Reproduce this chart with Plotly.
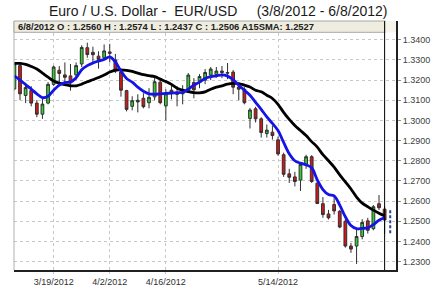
import plotly.graph_objects as go

dates = ["3/8/2012", "3/9/2012", "3/12/2012", "3/13/2012", "3/14/2012", "3/15/2012", "3/16/2012",
         "3/19/2012", "3/20/2012", "3/21/2012", "3/22/2012", "3/23/2012",
         "3/26/2012", "3/27/2012", "3/28/2012", "3/29/2012", "3/30/2012",
         "4/2/2012", "4/3/2012", "4/4/2012", "4/5/2012", "4/6/2012",
         "4/9/2012", "4/10/2012", "4/11/2012", "4/12/2012", "4/13/2012",
         "4/16/2012", "4/17/2012", "4/18/2012", "4/19/2012", "4/20/2012",
         "4/23/2012", "4/24/2012", "4/25/2012", "4/26/2012", "4/27/2012",
         "4/30/2012", "5/1/2012", "5/2/2012", "5/3/2012", "5/4/2012",
         "5/7/2012", "5/8/2012", "5/9/2012", "5/10/2012", "5/11/2012",
         "5/14/2012", "5/15/2012", "5/16/2012", "5/17/2012", "5/18/2012",
         "5/21/2012", "5/22/2012", "5/23/2012", "5/24/2012", "5/25/2012",
         "5/28/2012", "5/29/2012", "5/30/2012", "5/31/2012", "6/1/2012",
         "6/4/2012", "6/5/2012", "6/6/2012", "6/7/2012", "6/8/2012"]

opens = [1.3156, 1.3272, 1.3124, 1.3148, 1.3086, 1.3031, 1.3086,
         1.3179, 1.3249, 1.3226, 1.3221, 1.3226,
         1.3280, 1.3361, 1.3338, 1.3319, 1.3311,
         1.3340, 1.3300, 1.3240, 1.3148, 1.3070,
         1.3100, 1.3110, 1.3088, 1.3117, 1.3190,
         1.3072, 1.3150, 1.3135, 1.3132, 1.3150,
         1.3188, 1.3196, 1.3200, 1.3225, 1.3228,
         1.3245, 1.3238, 1.3240, 1.3166, 1.3155,
         1.3010, 1.3058, 1.3008, 1.2935, 1.2942,
         1.2904, 1.2830, 1.2735, 1.2720, 1.2704,
         1.2778, 1.2820, 1.2689, 1.2587, 1.2536,
         1.2583, 1.2549, 1.2500, 1.2377, 1.2377,
         1.2424, 1.2502, 1.2463, 1.2587, 1.2560]
highs = [1.3290, 1.3280, 1.3187, 1.3170, 1.3101, 1.3117, 1.3190,
         1.3272, 1.3270, 1.3288, 1.3280, 1.3288,
         1.3373, 1.3386, 1.3366, 1.3343, 1.3377,
         1.3380, 1.3330, 1.3250, 1.3152, 1.3120,
         1.3130, 1.3135, 1.3160, 1.3210, 1.3200,
         1.3155, 1.3175, 1.3170, 1.3175, 1.3235,
         1.3210, 1.3230, 1.3255, 1.3265, 1.3265,
         1.3270, 1.3285, 1.3250, 1.3187, 1.3165,
         1.3062, 1.3068, 1.3016, 1.2980, 1.2975,
         1.2920, 1.2840, 1.2760, 1.2745, 1.2790,
         1.2830, 1.2828, 1.2697, 1.2620, 1.2556,
         1.2626, 1.2556, 1.2510, 1.2393, 1.2463,
         1.2510, 1.2517, 1.2580, 1.2630, 1.2574]
lows = [1.3150, 1.3101, 1.3086, 1.3070, 1.3016, 1.3008, 1.3080,
        1.3171, 1.3182, 1.3171, 1.3148, 1.3202,
        1.3265, 1.3311, 1.3288, 1.3257, 1.3303,
        1.3288, 1.3235, 1.3118, 1.3045, 1.3050,
        1.3040, 1.3060, 1.3060, 1.3100, 1.3080,
        1.3000, 1.3105, 1.3070, 1.3080, 1.3140,
        1.3110, 1.3160, 1.3180, 1.3200, 1.3212,
        1.3210, 1.3205, 1.3130, 1.3100, 1.3080,
        1.2960, 1.2990, 1.2915, 1.2915, 1.2905,
        1.2825, 1.2720, 1.2690, 1.2673, 1.2650,
        1.2760, 1.2690, 1.2585, 1.2517, 1.2509,
        1.2533, 1.2465, 1.2369, 1.2343, 1.2288,
        1.2410, 1.2439, 1.2455, 1.2556, 1.2437]
closes = [1.3280, 1.3132, 1.3163, 1.3086, 1.3031, 1.3081, 1.3179,
          1.3265, 1.3233, 1.3214, 1.3187, 1.3272,
          1.3362, 1.3327, 1.3326, 1.3303, 1.3345,
          1.3333, 1.3245, 1.3150, 1.3055, 1.3098,
          1.3092, 1.3068, 1.3115, 1.3192, 1.3088,
          1.3132, 1.3140, 1.3130, 1.3138, 1.3225,
          1.3152, 1.3218, 1.3238, 1.3255, 1.3245,
          1.3238, 1.3235, 1.3165, 1.3155, 1.3088,
          1.3052, 1.3008, 1.2940, 1.2952, 1.2925,
          1.2834, 1.2733, 1.2718, 1.2697, 1.2782,
          1.2820, 1.2697, 1.2588, 1.2533, 1.2517,
          1.2551, 1.2471, 1.2377, 1.2362, 1.2424,
          1.2494, 1.2455, 1.2572, 1.2567, 1.2506]

# short moving average (blue)
fast_ma = [1.3221, 1.3200, 1.3178, 1.3156, 1.3132, 1.3113, 1.3120,
           1.3150, 1.3175, 1.3188, 1.3190, 1.3212,
           1.3252, 1.3272, 1.3285, 1.3295, 1.3303,
           1.3315, 1.3290, 1.3245, 1.3208, 1.3190,
           1.3165, 1.3145, 1.3132, 1.3130, 1.3132,
           1.3134, 1.3136, 1.3138, 1.3140, 1.3155,
           1.3175, 1.3190, 1.3208, 1.3217, 1.3221,
           1.3226, 1.3220, 1.3202, 1.3175, 1.3150,
           1.3125, 1.3090, 1.3055, 1.3018, 1.2985,
           1.2950, 1.2891, 1.2835, 1.2800, 1.2788,
           1.2780, 1.2765, 1.2705, 1.2657, 1.2632,
           1.2626, 1.2580, 1.2522, 1.2479, 1.2463,
           1.2465, 1.2467, 1.2483, 1.2505, 1.2517]
# 15-day SMA (black)
sma15 = [1.3283, 1.3283, 1.3278, 1.3268, 1.3255, 1.3235, 1.3215,
         1.3196, 1.3185, 1.3178, 1.3172, 1.3172,
         1.3180, 1.3192, 1.3202, 1.3213, 1.3225,
         1.3240, 1.3250, 1.3251, 1.3248, 1.3243,
         1.3235, 1.3227, 1.3222, 1.3217, 1.3205,
         1.3193, 1.3179, 1.3160, 1.3150, 1.3143,
         1.3138, 1.3137, 1.3142, 1.3155, 1.3165,
         1.3172, 1.3180, 1.3184, 1.3183, 1.3175,
         1.3166, 1.3150, 1.3142, 1.3125, 1.3109,
         1.3080, 1.3040, 1.3005, 1.2975, 1.2950,
         1.2925, 1.2895, 1.2868, 1.2830, 1.2800,
         1.2768, 1.2730, 1.2695, 1.2660, 1.2620,
         1.2590, 1.2572, 1.2555, 1.2540, 1.2527]

proj_dates = ["6/11/2012", "6/11/2012"]
proj_values = [1.2440, 1.2563]

tick_dates = ["3/19/2012", "4/2/2012", "4/16/2012", "5/14/2012"]
y_ticks = [1.23, 1.24, 1.25, 1.26, 1.27, 1.28, 1.29, 1.30, 1.31, 1.32, 1.33, 1.34]
y_tick_text = ["1.2300", "1.2400", "1.2500", "1.2600", "1.2700", "1.2800",
               "1.2900", "1.3000", "1.3100", "1.3200", "1.3300", "1.3400"]

title_text = "Euro / U.S. Dollar -\u00a0 EUR/USD\u00a0\u00a0\u00a0\u00a0 (3/8/2012 - 6/8/2012)"
header_text = "6/8/2012 O : 1.2560 H : 1.2574 L : 1.2437 C : 1.2506 A15SMA: 1.2527"

FONT = "Arial, 'Liberation Sans', sans-serif"

fig = go.Figure()
fig.add_trace(go.Candlestick(
    x=dates, open=opens, high=highs, low=lows, close=closes,
    increasing=dict(line=dict(color="#303030", width=1), fillcolor="#2fcf2f"),
    decreasing=dict(line=dict(color="#303030", width=1), fillcolor="#d01818"),
    whiskerwidth=0, showlegend=False, hoverinfo="skip"))
fig.add_trace(go.Scatter(x=dates, y=sma15, mode="lines",
                         line=dict(color="#000000", width=2.8, shape="spline"),
                         showlegend=False, hoverinfo="skip"))
fig.add_trace(go.Scatter(x=dates, y=fast_ma, mode="lines",
                         line=dict(color="#1414e6", width=2.8, shape="spline"),
                         showlegend=False, hoverinfo="skip"))
fig.add_trace(go.Scatter(x=proj_dates, y=proj_values, mode="lines",
                         line=dict(color="#2a3f9e", width=2, dash="3px,2px"),
                         showlegend=False, hoverinfo="skip"))

fig.update_layout(
    width=442, height=299,
    margin=dict(l=14, r=33, t=21, b=14),
    paper_bgcolor="white", plot_bgcolor="white",
    font=dict(family=FONT, color="#333333", size=9),
    showlegend=False,
    xaxis=dict(type="category", range=[-0.07, 68.03],
               rangeslider=dict(visible=False),
               tickmode="array", tickvals=tick_dates, ticktext=tick_dates,
               showgrid=True, gridcolor="#c8c8c8", griddash="dot", gridwidth=1,
               showline=True, linecolor="#202020", linewidth=2,
               ticks="outside", ticklen=2, tickcolor="#c8c8c8",
               tickfont=dict(size=9, color="#303030", family=FONT),
               zeroline=False, fixedrange=True),
    yaxis=dict(side="right", range=[1.2258, 1.34934],
               tickmode="array", tickvals=y_ticks, ticktext=y_tick_text,
               showgrid=True, gridcolor="#c8c8c8", griddash="dot", gridwidth=1,
               showline=True, linecolor="#202020", linewidth=2,
               ticks="outside", ticklen=3, tickcolor="#909090",
               tickfont=dict(size=9, color="#404040", family=FONT),
               zeroline=False, fixedrange=True),
)

# left border
fig.add_shape(type="line", xref="paper", yref="paper", x0=0, x1=0, y0=0, y1=1,
              line=dict(color="#b0b0b0", width=1), layer="above")
# header strip
fig.add_shape(type="rect", xref="paper", yref="paper", x0=0, x1=0.972, y0=0.9546, y1=1.0,
              fillcolor="#efede0", line=dict(color="#a8a8a0", width=1), layer="above")
fig.add_shape(type="rect", xref="paper", yref="paper", x0=0.972, x1=1.0, y0=0.9546, y1=1.0,
              fillcolor="#f6f5ec", line=dict(width=0), layer="above")
# cursor line at last date
fig.add_shape(type="line", xref="x", yref="paper", x0=dates[-1], x1=dates[-1], y0=0, y1=1,
              line=dict(color="#000000", width=1), layer="above")

fig.add_annotation(text=title_text, xref="paper", yref="paper", x=0.534, y=1.0416,
                   xanchor="center", yanchor="middle", showarrow=False,
                   font=dict(size=14, color="#1a1a1a", family=FONT))
fig.add_annotation(text="<b>" + header_text + "</b>", xref="paper", yref="paper",
                   x=0.005, y=0.976, xanchor="left", yanchor="middle", showarrow=False,
                   font=dict(size=9.4, color="#202020", family=FONT))

fig.write_html("out.html")
